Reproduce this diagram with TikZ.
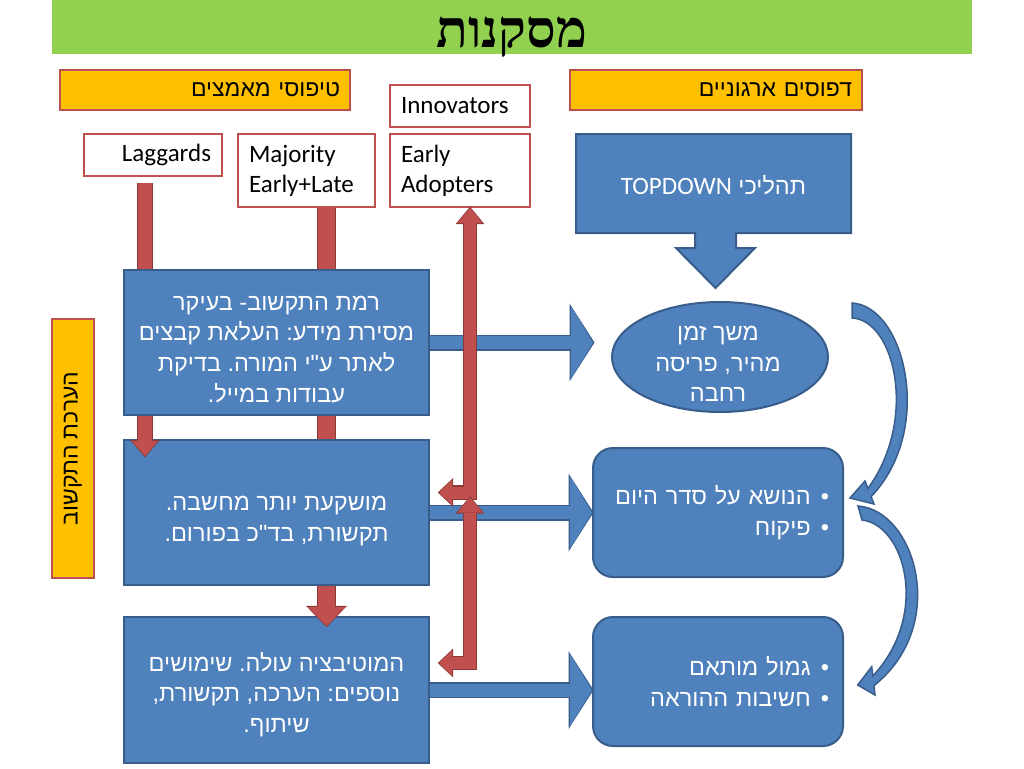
\documentclass[tikz,border=0pt]{standalone}
\usepackage{fontspec}
\setmainfont{Liberation Sans}
\newfontfamily\hebfont[Script=Hebrew,Ligatures=TeXOff]{Liberation Sans}
\newfontfamily\ttlfont[Script=Hebrew]{Liberation Serif}
\newfontfamily\latfont{Carlito}
\usepackage{tikz}
\usetikzlibrary{arrows.meta,shapes.geometric,calc,positioning}
\TeXXeTstate=1
\frenchspacing
\newcommand\rl[1]{\beginR #1\endR}
\newcommand\lift[1]{\rule{0pt}{#1}}

\definecolor{slidegreen}{HTML}{92D050}
\definecolor{tagorange}{HTML}{FFC000}
\definecolor{tagred}{HTML}{C0504D}
\definecolor{arrred}{HTML}{C0504D}
\definecolor{arrdark}{HTML}{8C3836}
\definecolor{bluefill}{HTML}{4F81BD}
\definecolor{bluedark}{HTML}{385D8A}

\begin{document}
\begin{tikzpicture}[x=1pt, y=-1pt,
  tag/.style={draw=tagred, line width=2pt, fill=tagorange, inner xsep=10pt,
    font=\hebfont\fontsize{23}{28}\selectfont},
  group/.style={draw=tagred, line width=2pt, fill=white, inner xsep=11pt,
    font=\latfont\fontsize{25}{30}\selectfont},
  blk/.style={draw=bluedark, line width=2pt, fill=bluefill, text=white,
    inner xsep=4pt, font=\hebfont\fontsize{23.5}{30.7}\selectfont, align=center},
  txt/.style={text=white, font=\hebfont\fontsize{23.5}{30.5}\selectfont, align=center},
  callout/.style={draw=bluedark, line width=2pt, fill=bluefill},
  redstem/.style={draw=arrred, line width=#1,
    preaction={draw=arrdark, line width=#1+2.4pt}},
  lagarr/.style={draw=arrred, line width=14pt,
    -{Triangle[width=26pt,length=15pt,line width=0pt]},
    preaction={draw=arrdark, line width=16.4pt, shorten >=-1.2pt,
      -{Triangle[width=30pt,length=17.4pt,line width=0pt]}}},
  majarr/.style={draw=arrred, line width=17pt,
    -{Triangle[width=37pt,length=19pt,line width=0pt]},
    preaction={draw=arrdark, line width=19.4pt, shorten >=-1.2pt,
      -{Triangle[width=41pt,length=21.4pt,line width=0pt]}}},
  adoptarr/.style={draw=arrred, line width=12pt,
    {Triangle[width=25pt,length=13pt,line width=0pt]}-{Triangle[width=25pt,length=15pt,line width=0pt]},
    preaction={draw=arrdark, line width=14.4pt, shorten >=-1.2pt, shorten <=-1.2pt,
      {Triangle[width=29pt,length=15.4pt,line width=0pt]}-{Triangle[width=29pt,length=17.4pt,line width=0pt]}}},
  flowarr/.style={draw=bluefill, line width=13pt,
    -{Triangle[width=72pt,length=22pt,line width=0pt]},
    preaction={draw=bluedark, line width=16pt, shorten >=-1.5pt,
      -{Triangle[width=78pt,length=25pt,line width=0pt]}}},
  curvearr/.style={draw=bluedark, line width=1.5pt, fill=bluefill}
]
  \fill[white] (0,0) rectangle (1024,768);
  \useasboundingbox (0,0) rectangle (1024,768);

  % title
  \node[fill=slidegreen, minimum width=920pt, minimum height=54pt, inner sep=0pt] (bar) at (512,27) {};
  \node[font=\ttlfont\bfseries\fontsize{52}{52}\selectfont, anchor=base] (ttl) at (512,48) {\rl{מסקנות}};

  % headings
  \node[tag, text width=270pt, align=right, minimum height=40pt] (adopt) at (205,90) {\rl{טיפוסי מאמצים}};
  \node[tag, text width=272pt, align=right, minimum height=40pt] (orgpat) at (716,90) {\rl{דפוסים ארגוניים}};
  \node[tag, rotate=90, minimum width=259pt, minimum height=42pt] (eval) at (73,448.5) {\rl{הערכת התקשוב}};

  % adopter groups
  \node[group, text width=118pt, align=left, minimum height=42pt] (innov) at (460,106) {Innovators};
  \node[group, text width=116pt, align=right, minimum height=42pt] (lagg) at (153,155) {Laggards};
  \node[group, text width=115pt, align=left, minimum height=73pt] (major) at (306.5,170.5) {Majority\\Early+Late};
  \node[group, text width=118pt, align=left, minimum height=73pt] (early) at (460,170.5) {Early\\Adopters};

  % topdown callout
  \path[callout] (576,134) -- (851,134) -- (851,233) -- (736,233) -- (736,248) -- (755,248)
    -- (715.5,288) -- (676,248) -- (695,248) -- (695,233) -- (576,233) -- cycle;
  \node[txt] (topdown) at (713.5,185) {\rl{תהליכי \beginL{\latfont\fontsize{25}{30}\selectfont TOPDOWN}\endL}};

  % levels
  \node[blk, minimum width=305pt, minimum height=145pt] (lvlA) at (276.5,342.5)
    {\rl{\lift{28pt}רמת התקשוב- בעיקר}\\\rl{מסירת מידע: העלאת קבצים}\\\rl{לאתר ע"י המורה. בדיקת}\\\rl{עבודות במייל.}};
  \node[blk, minimum width=305pt, minimum height=145pt] (lvlB) at (276.5,512.5)
    {\rl{\lift{32pt}מושקעת יותר מחשבה.}\\\rl{תקשורת, בד"כ בפורום.}};
  \node[blk, minimum width=305pt, minimum height=146pt] (lvlC) at (276.5,690)
    {\rl{\lift{28pt}המוטיבציה עולה. שימושים}\\\rl{נוספים: הערכה, תקשורת,}\\\rl{שיתוף.}};

  % patterns
  \node[blk, ellipse, minimum width=216pt, minimum height=110pt] (span) at (720,357) {};
  \node[txt] (spantxt) at (718,364) {\rl{משך זמן}\\\rl{מהיר, פריסה}\\\rl{רחבה}};
  \node[blk, rounded corners=20pt, minimum width=250pt, minimum height=129pt, text width=222pt,
    inner xsep=14pt, align=right] (agenda) at (718,512.5)
    {\rl{\textbullet\hspace{10pt}הנושא על סדר היום}\\\rl{\textbullet\hspace{10pt}פיקוח}};
  \node[blk, rounded corners=20pt, minimum width=250pt, minimum height=129pt, text width=222pt,
    inner xsep=14pt, align=right] (reward) at (718,681.5)
    {\rl{\textbullet\hspace{10pt}גמול מותאם}\\\rl{\textbullet\hspace{10pt}חשיבות ההוראה}};

  % blue connectors
  \draw[flowarr] (lvlA.east) -- ($(lvlA.east -| span.west)+(-18,0)$);
  \draw[flowarr] (lvlB.east) -- (lvlB.east -| agenda.west);
  \draw[flowarr] (lvlC.east) -- (lvlC.east -| reward.west);

  % red connectors
  \coordinate (lx) at (145,0);
  \coordinate (mx) at (326.5,0);
  \coordinate (ex) at (470,0);
  \draw[redstem=14pt] ($(lx |- lagg.south)+(0,6)$) -- (lx |- lvlA.north);
  \draw[lagarr] (lx |- lvlA.south) -- ($(lx |- lvlB.north)+(0,17)$);
  \draw[redstem=17pt] (mx |- major.south) -- (mx |- lvlA.north);
  \draw[redstem=17pt] (mx |- lvlA.south) -- (mx |- lvlB.north);
  \draw[majarr] (mx |- lvlB.south) -- ($(mx |- lvlC.north)+(0,10)$);
  \draw[adoptarr] ($(lvlB.east)+(9,-20)$) -| (ex |- early.south);
  \draw[adoptarr] ($(lvlC.east)+(9,-27)$) -| ($(ex |- lvlB.east)+(0,-15)$);

  % curved arrows
  \path[curvearr] (852,303) .. controls (905,306) and (935,430) .. (871.1,496.6)
    -- (874,504) -- (850,498) -- (865,481) -- (867.9,488.4)
    .. controls (918,420) and (895,320) .. (852,318) -- cycle;
  \path[curvearr] (858,506) .. controls (915,510) and (950,625) .. (873.9,685.7)
    -- (875,695) -- (857.7,685) -- (871.7,666.7) -- (872.8,676)
    .. controls (930,615) and (905,525) .. (862,520) -- cycle;
\end{tikzpicture}
\end{document}
